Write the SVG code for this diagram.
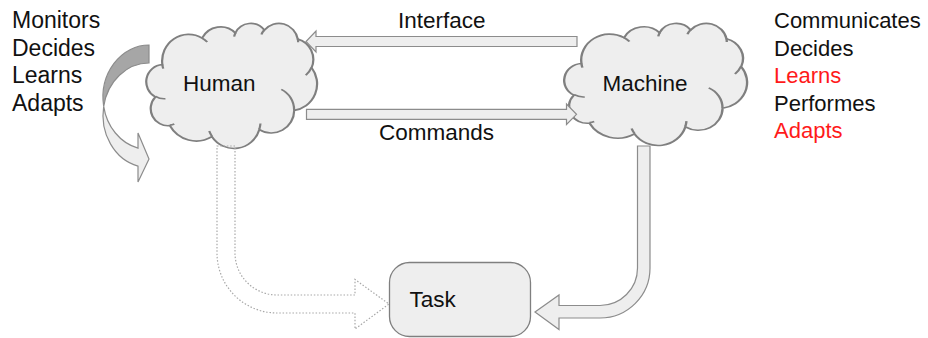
<svg xmlns="http://www.w3.org/2000/svg" width="928" height="338" viewBox="0 0 928 338">
  <defs>
    <!-- Cloud outline in a 100x100 box, scallops plus inner fold lines -->
    <path id="cloud-outline" d="M9.03,33.26 A15.63,21.27 0 0 1 32.42,12.04 A12.34,16.82 0 0 1 51.98,7.94 A10.10,13.76 0 0 1 69.06,5.74 A11.24,15.27 0 0 1 88.70,12.90 A12.34,16.84 0 0 1 96.81,35.78 A15.68,21.34 0 0 1 86.59,69.91 A13.39,18.21 0 0 1 66.11,85.21 A15.63,21.33 0 0 1 38.16,90.90 A17.87,24.41 0 0 1 13.44,82.11 A10.09,13.70 0 0 1 4.90,59.15 A10.06,13.76 0 0 1 9.03,33.26 Z"/>
    <path id="cloud-folds" d="M10.86,60.60 A10.06,13.76 0 0 1 5.00,58.75 M16.04,80.78 A10.09,13.70 0 0 1 13.47,81.67 M38.14,90.49 A15.63,21.33 0 0 1 36.60,86.45 M66.73,80.44 A15.63,21.33 0 0 1 66.11,84.86 M79.00,53.13 A13.39,18.21 0 0 1 86.53,69.65 M96.75,35.54 A12.34,16.84 0 0 1 93.40,41.74 M88.71,12.56 A11.24,15.27 0 0 1 88.89,15.48 M67.31,9.15 A11.24,15.27 0 0 1 69.02,5.42 M51.25,10.93 A10.10,13.76 0 0 1 52.08,7.71 M32.41,12.02 A15.63,21.27 0 0 1 35.41,15.14 M9.55,36.55 A15.63,21.27 0 0 1 9.03,33.27"/>
  </defs>
  <style>
    .cloud { fill: #eeeeee; stroke: #7f7f7f; stroke-width: 1.3; vector-effect: non-scaling-stroke; }
    .fold { fill: none; stroke: #7f7f7f; stroke-width: 1.3; vector-effect: non-scaling-stroke; }
    .box { fill: #eeeeee; stroke: #7f7f7f; stroke-width: 1.3; }
    .block { fill: #eeeeee; stroke: #8c8c8c; stroke-width: 1.2; stroke-linejoin: miter; }
    .block-back { fill: #a6a6a6; stroke: #8c8c8c; stroke-width: 1.2; }
    .dotted { fill: none; stroke: #a8a8a8; stroke-width: 1.2; stroke-dasharray: 1.5 1.8; }
    text { font-family: "Liberation Sans", Arial, sans-serif; fill: #111111; }
    .side { font-size: 22px; }
    .side-left { font-size: 23px; }
    .label { font-size: 22.5px; }
    .red { fill: #ff1a1a; }
  </style>

  <rect width="928" height="338" fill="#ffffff"/>

  <!-- Human -->
  <g id="human">
    <g transform="translate(147,23) scale(1.70,1.25)">
      <use href="#cloud-outline" class="cloud"/>
      <use href="#cloud-folds" class="fold"/>
    </g>
    <text class="label" x="183" y="91">Human</text>
  </g>

  <!-- Machine -->
  <g id="machine">
    <g transform="translate(565,23) scale(1.82,1.22)">
      <use href="#cloud-outline" class="cloud"/>
      <use href="#cloud-folds" class="fold"/>
    </g>
    <text class="label" x="602.5" y="91">Machine</text>
  </g>

  <!-- Task -->
  <g id="task">
    <rect class="box" x="389.5" y="262.5" width="141" height="74" rx="20" ry="20"/>
    <text class="label" x="409.5" y="307">Task</text>
  </g>

  <!-- Human abilities -->
  <g id="human-abilities">
    <text class="side-left" x="12" y="28">Monitors</text>
    <text class="side-left" x="12" y="55.5">Decides</text>
    <text class="side-left" x="12" y="83">Learns</text>
    <text class="side-left" x="12" y="110.5">Adapts</text>
  </g>

  <!-- Machine abilities -->
  <g id="machine-abilities">
    <text class="side" x="774" y="28">Communicates</text>
    <text class="side" x="774" y="55.5">Decides</text>
    <text class="side red" x="774" y="83">Learns</text>
    <text class="side" x="774" y="110.5">Performes</text>
    <text class="side red" x="774" y="138">Adapts</text>
  </g>

  <!-- Connectors -->
  <g id="connectors">
    <!-- Interface: machine to human -->
    <path class="block" d="M577,36.5 L316,36.5 L316,31 L306,41.5 L316,52 L316,46.5 L577,46.5 Z"/>
    <text class="label" x="398" y="28">Interface</text>

    <!-- Commands: human to machine -->
    <path class="block" d="M306.5,109.3 L566.5,109.3 L566.5,104 L576.5,114.3 L566.5,124.5 L566.5,119.3 L306.5,119.3 Z"/>
    <text class="label" x="379" y="140">Commands</text>

    <!-- Human self loop (twisted ribbon arrow) -->
    <path class="block-back" d="M149,45 A46,52.3 0 0 0 103.69,106.3 A46,52.3 0 0 1 149,63 Z"/>
    <path class="block" d="M103.69,106.3 A46,52.3 0 0 0 138,166.1 L138,182 L149,159 L138,133 L138,148.1 A46,52.3 0 0 1 103.69,106.3 Z"/>

    <!-- Machine to task -->
    <path class="block" d="M637.5,146 L650,146 L650,268 A50,50 0 0 1 600,318 L559,318 L559,329.5 L535,312 L559,295 L559,305.5 L600,305.5 A37.5,37.5 0 0 0 637.5,268 Z"/>

    <!-- Human to task (dotted) -->
    <path class="dotted" d="M217,146 L235,146 L235,253 A42,42 0 0 0 277,295 L355,295 L355,279.5 L389,304 L355,329 L355,313 L277,313 A60,60 0 0 1 217,253 Z"/>
  </g>
</svg>
